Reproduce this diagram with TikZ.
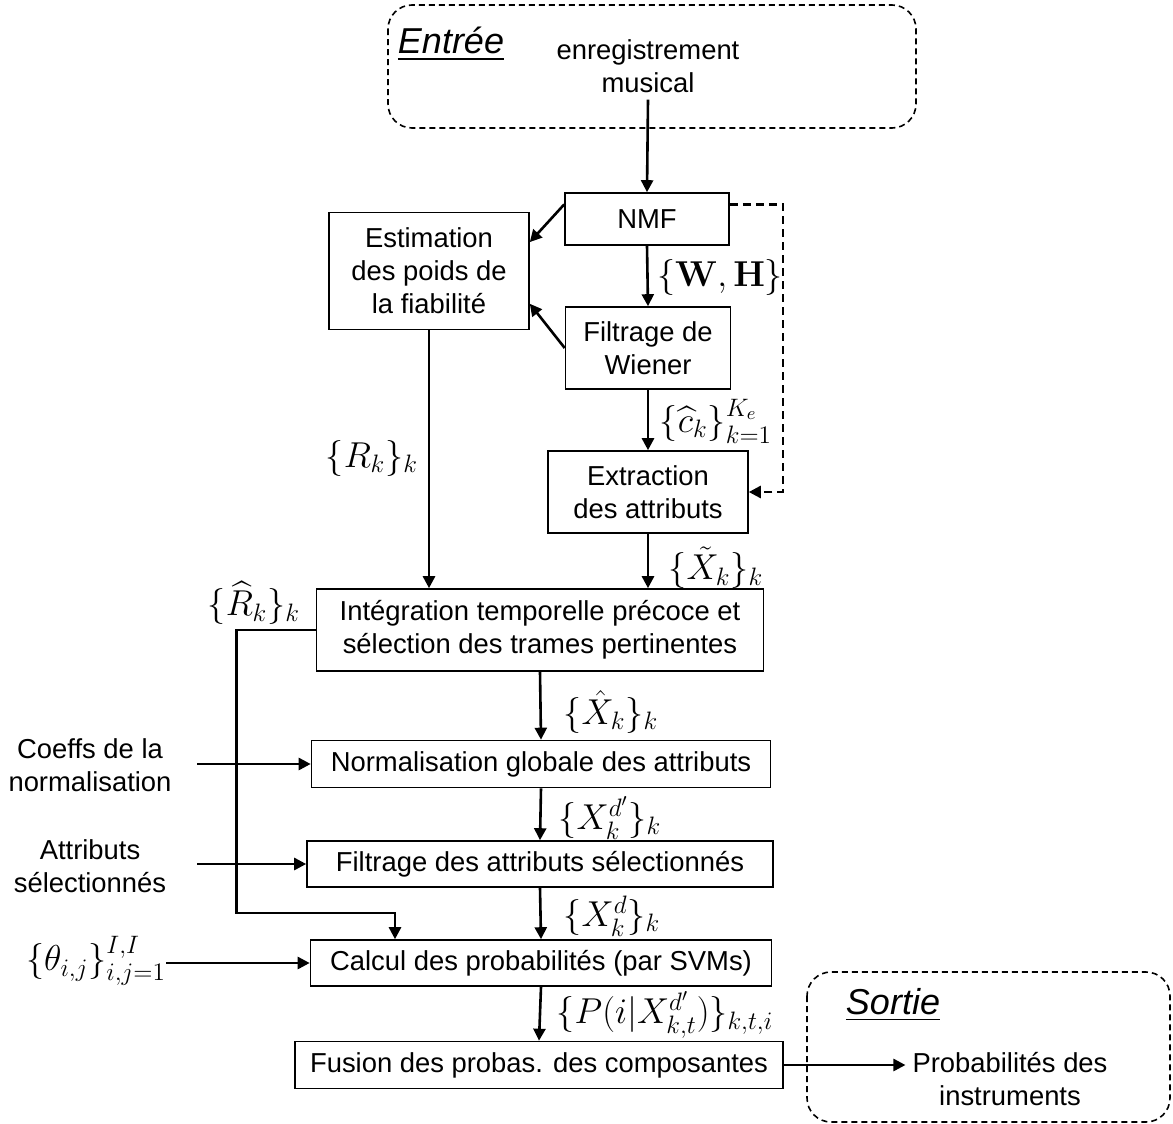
\RequirePackage{fix-cm}
\documentclass[tikz,border=0pt]{standalone}
\usepackage{amsmath}
\usepackage[no-math]{fontspec}
\setmainfont{Liberation Sans}
\usepackage{tikz}
\usetikzlibrary{arrows.meta}

\begin{document}
\begin{tikzpicture}[x=0.5pt,y=-0.5pt,
  box/.style={draw,line width=0.8pt,align=center,inner sep=0pt,font=\fontsize{13.7}{16.6}\selectfont},
  txt/.style={align=center,font=\fontsize{13.7}{16.6}\selectfont},
  ttl/.style={font=\fontsize{18}{20}\selectfont\itshape},
  lab/.style={inner sep=0pt,font=\fontsize{18}{20}\selectfont},
  arr/.style={line width=1.3pt,-{Triangle[length=6pt,width=6pt]}},
  dbox/.style={draw,line width=0.8pt,rounded corners=12pt,dash pattern=on 3pt off 2pt}]
\useasboundingbox (0,0) rectangle (1173,1124);

\draw[dbox] (388,5) rectangle (916,128);
\draw[dbox] (807,972) rectangle (1170,1122);

\node[ttl] (entree) at (451,44) {\underline{Entrée}};
\node[ttl] (sortie) at (893,1005) {\underline{Sortie}};
\node[txt] (inp) at (648,66) {enregistrement\\musical};
\node[txt] (outp) at (1010,1079) {Probabilités des\\instruments};
\node[txt] (coef) at (90,765) {Coeffs de la\\normalisation};
\node[txt] (attr) at (90,866) {Attributs\\sélectionnés};

\node[box,minimum width=82pt,minimum height=26pt] (nmf) at (647,219) {NMF};
\node[box,minimum width=100pt,minimum height=58.5pt] (est) at (429,271) {Estimation\\des poids de\\la fiabilité};
\node[box,minimum width=82.5pt,minimum height=41pt] (filt) at (648,348) {Filtrage de\\Wiener};
\node[box,minimum width=100pt,minimum height=41pt] (extr) at (648,492) {Extraction\\des attributs};
\node[box,minimum width=223.5pt,minimum height=41pt] (integ) at (540,630) {Intégration temporelle précoce et\\sélection des trames pertinentes};
\node[box,minimum width=229.5pt,minimum height=23.5pt] (norm) at (541,764) {Normalisation globale des attributs};
\node[box,minimum width=233pt,minimum height=23pt] (filtsel) at (540,864) {Filtrage des attributs sélectionnés};
\node[box,minimum width=230.5pt,minimum height=23pt] (calc) at (541,963) {Calcul des probabilités (par SVMs)};
\node[box,minimum width=244pt,minimum height=23.5pt] (fus) at (539,1065) {Fusion des probas. des composantes};

\node[lab] (wh) at (720,277) {$\{\mathbf{W},\mathbf{H}\}$};
\node[lab] (chat) at (716,421) {$\{\widehat{c}_k\}_{k=1}^{K_e}$};
\node[lab] (rk) at (372,458) {$\{R_k\}_k$};
\node[lab] (xt) at (716,568) {$\{\tilde{X}_k\}_k$};
\node[lab] (rhat) at (254,603) {$\{\widehat{R}_k\}_k$};
\node[lab] (xh) at (611,712) {$\{\hat{X}_k\}_k$};
\node[lab] (xdp) at (610,818) {$\{X_k^{d'}\}_k$};
\node[lab] (xd) at (612,916) {$\{X_k^{d}\}_k$};
\node[lab] (theta) at (96,961) {$\{\theta_{i,j}\}_{i,j=1}^{I,I}$};
\node[lab] (pk) at (665,1015) {$\{P(i|X_{k,t}^{d'})\}_{k,t,i}$};

\coordinate (byp) at (395,913);
\coordinate (cin) at (197,0);

\draw[arr] (inp.south) -- (nmf.north);
\draw[arr] (nmf.170) -- (est.16);
\draw[arr] (nmf.south) -- (filt.north);
\draw[arr] (filt.west) -- (est.-18);
\draw[arr] (filt.south) -- (extr.north);
\draw[arr,dash pattern=on 4pt off 2.5pt] (nmf.10) -- ++(53,0) |- (extr.east);
\draw[arr] (extr.south) -- (extr.south |- integ.north);
\draw[arr] (est.south) -- (est.south |- integ.north);
\draw[arr] (integ.west) -- ++(-79,0) |- (byp) -- (byp |- calc.north);
\draw[arr] (integ.south) -- (norm.north);
\draw[arr] (norm.south) -- (filtsel.north);
\draw[arr] (filtsel.south) -- (calc.north);
\draw[arr] (calc.south) -- (fus.north);
\draw[arr] (norm.west -| cin) -- (norm.west);
\draw[arr] (filtsel.west -| cin) -- (filtsel.west);
\draw[arr] (theta.east |- calc.west) -- (calc.west);
\draw[arr] (fus.east) -- (fus.east -| outp.west);
\end{tikzpicture}
\end{document}
